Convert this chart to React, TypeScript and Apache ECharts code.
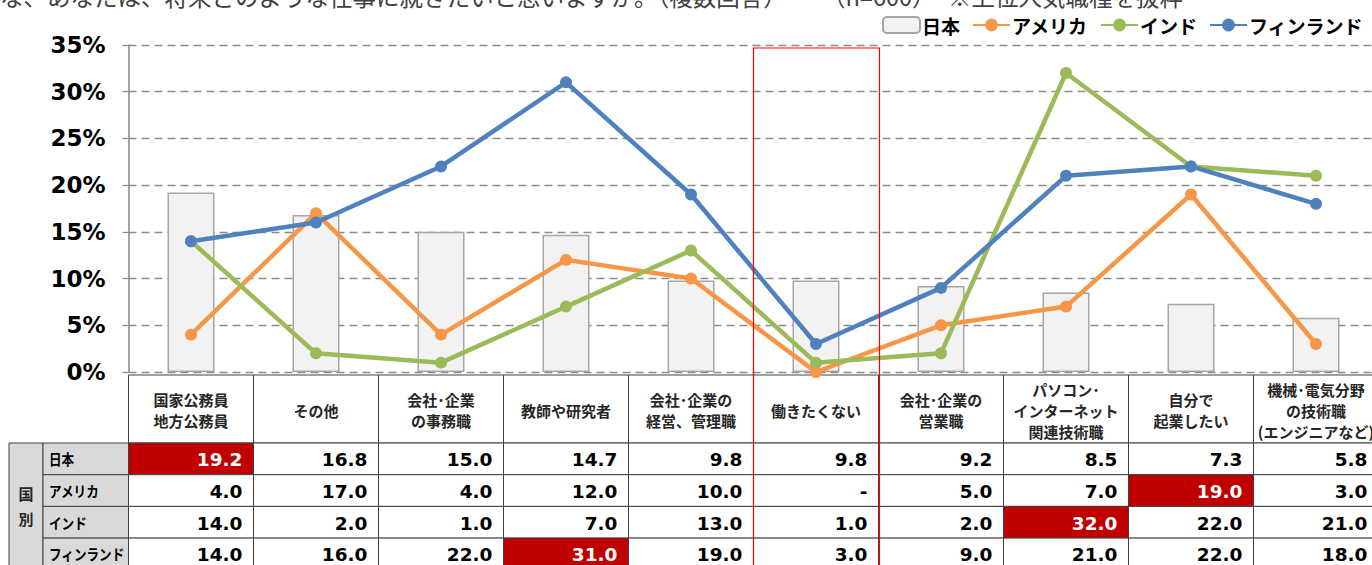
import React, { useEffect, useRef } from "react";
import * as echarts from "echarts";

const categories = [
  "国家公務員\n地方公務員",
  "その他",
  "会社･企業\nの事務職",
  "教師や研究者",
  "会社･企業の\n経営、管理職",
  "働きたくない",
  "会社･企業の\n営業職",
  "パソコン･\nインターネット\n関連技術職",
  "自分で\n起業したい",
  "機械･電気分野\nの技術職\n(エンジニアなど)",
];
const seriesNames = ["日本", "アメリカ", "インド", "フィンランド"];
const japan = [19.2, 16.8, 15.0, 14.7, 9.8, 9.8, 9.2, 8.5, 7.3, 5.8];
const america = [4.0, 17.0, 4.0, 12.0, 10.0, 0, 5.0, 7.0, 19.0, 3.0];
const india = [14.0, 2.0, 1.0, 7.0, 13.0, 1.0, 2.0, 32.0, 22.0, 21.0];
const finland = [14.0, 16.0, 22.0, 31.0, 19.0, 3.0, 9.0, 21.0, 22.0, 18.0];
const highlightedCategory = "働きたくない";
const groupLabel = "国\n別";
const titleMain = "な、あなたは、将来どのような仕事に就きたいと思いますか。（複数回答）";
const titleN = "（n=600）";
const titleNote = "※上位人気職種を抜粋";

const colors = ["#f2f2f2", "#f79646", "#9bbb59", "#4f81bd"];

export default function App() {
  const ref = useRef<HTMLDivElement>(null);
  useEffect(() => {
    document.body.style.margin = "0";
    const chart = echarts.init(ref.current!, null, { renderer: "svg" });
    const lineSeries = (name: string, data: number[], color: string) => ({
      name,
      type: "line",
      data,
      color,
      symbol: "circle",
      symbolSize: 12,
      lineStyle: { width: 4.5, color },
      itemStyle: { color },
      z: 3,
    });
    chart.setOption({
      animation: false,
      grid: {
        left: 128.5,
        top: 45,
        width: 1250,
        height: 327,
        containLabel: false,
        outerBoundsMode: "none",
      },
      legend: {
        right: 4,
        top: 13,
        padding: [2, 5, 2, 5],
        itemGap: 12,
        itemWidth: 37,
        itemHeight: 16,
        data: seriesNames,
        textStyle: {
          fontSize: 19,
          lineHeight: 20,
          fontWeight: "bold",
          color: "#000",
          fontFamily: '"Noto Sans CJK JP"',
          padding: [0, 0, 0, -3],
        },
      },
      xAxis: {
        type: "category",
        data: categories,
        axisLine: { show: false },
        axisTick: { show: false },
        axisLabel: { show: false },
      },
      yAxis: {
        type: "value",
        min: 0,
        max: 35,
        interval: 5,
        axisLine: { show: true, lineStyle: { color: "#868686", width: 1.5 } },
        axisTick: {
          show: true,
          length: 8,
          lineStyle: { color: "#8c8c8c", type: [6, 4], width: 1.3 },
        },
        splitLine: {
          lineStyle: { color: "#8c8c8c", type: [8, 5], width: 1.3 },
        },
        axisLabel: {
          formatter: "{value}%",
          margin: 23,
          fontSize: 23,
          fontWeight: "bold",
          color: "#000",
          fontFamily: '"DejaVu Sans"',
        },
      },
      series: [
        {
          name: seriesNames[0],
          type: "bar",
          data: japan,
          barWidth: 47,
          itemStyle: { color: colors[0], borderColor: "#a6a6a6", borderWidth: 1.5 },
          z: 2,
        },
        lineSeries(seriesNames[1], america, colors[1]),
        lineSeries(seriesNames[2], india, colors[2]),
        lineSeries(seriesNames[3], finland, colors[3]),
      ],
    });

    const rows = [japan, america, india, finland];
    const cx = categories.map(
      (_, i) => chart.convertToPixel({ xAxisIndex: 0 }, i) as number
    );
    const cw = cx[1] - cx[0];
    const top = 375;
    const headerH = 68;
    const rowH = 31.7;
    const bodyTop = top + headerH;
    const g: any[] = [];
    const cjk = '"Noto Sans CJK JP"';

    // title (partially cut at the top, as in the source image)
    const titleStyle = {
      fontSize: 23.5,
      lineHeight: 23.5,
      fontFamily: cjk,
      fill: "#404040",
      verticalAlign: "middle",
    };
    g.push({ type: "text", x: 0, y: -4.5, style: { ...titleStyle, text: titleMain } });
    g.push({ type: "text", x: 822, y: -4.5, style: { ...titleStyle, text: titleN } });
    g.push({ type: "text", x: 948, y: -4.5, style: { ...titleStyle, text: titleNote } });

    // left label block
    const leftX = cx[0] - cw / 2;
    g.push({
      type: "rect",
      shape: { x: 9, y: bodyTop, width: 34, height: rowH * 4 },
      style: { fill: "#d9d9d9", stroke: "#404040", lineWidth: 1 },
    });
    g.push({
      type: "text",
      x: 26,
      y: bodyTop + rowH * 2,
      style: {
        text: groupLabel,
        fontSize: 15,
        fontWeight: "bold",
        fontFamily: cjk,
        fill: "#262626",
        align: "center",
        verticalAlign: "middle",
        lineHeight: 25,
      },
    });
    seriesNames.forEach((n, r) => {
      g.push({
        type: "rect",
        shape: { x: 43, y: bodyTop + r * rowH, width: leftX - 43, height: rowH },
        style: { fill: "#d9d9d9", stroke: "#404040", lineWidth: 1 },
      });
      g.push({
        type: "text",
        x: 49,
        y: bodyTop + r * rowH + rowH / 2,
        scaleX: 0.84,
        style: {
          text: n,
          fontSize: 15,
          fontWeight: "bold",
          fontFamily: cjk,
          fill: "#000",
          verticalAlign: "middle",
        },
      });
    });

    const maxIdx = rows.map((row) => row.indexOf(Math.max(...row)));

    categories.forEach((c, i) => {
      const x0 = cx[i] - cw / 2;
      g.push({
        type: "rect",
        shape: { x: x0, y: top, width: cw, height: headerH },
        style: { fill: "#fff", stroke: "#404040", lineWidth: 1 },
      });
      g.push({
        type: "text",
        x: cx[i],
        y: top + headerH / 2 + 1,
        style: {
          text: c,
          fontSize: 15,
          fontWeight: "bold",
          fontFamily: cjk,
          lineHeight: 21,
          fill: "#262626",
          align: "center",
          verticalAlign: "middle",
        },
      });
      rows.forEach((row, r) => {
        const hl = maxIdx[r] === i;
        const y0 = bodyTop + r * rowH;
        g.push({
          type: "rect",
          shape: { x: x0, y: y0, width: cw, height: rowH },
          style: { fill: hl ? "#c00000" : "#fff", stroke: "#404040", lineWidth: 1 },
        });
        g.push({
          type: "text",
          x: x0 + cw - 11,
          y: y0 + rowH / 2 + 1,
          style: {
            text: row[i] === 0 ? "-" : row[i].toFixed(1),
            fontSize: 18.5,
            fontWeight: "bold",
            fontFamily: '"DejaVu Sans"',
            fill: hl ? "#fff" : "#000",
            align: "right",
            verticalAlign: "middle",
          },
        });
      });
    });

    const hi = categories.indexOf(highlightedCategory);
    g.push({
      type: "rect",
      z: 100,
      shape: { x: cx[hi] - cw / 2, y: 48, width: cw + 1, height: 600 },
      style: { fill: "none", stroke: "#ff0000", lineWidth: 1.2 },
    });

    chart.setOption({ graphic: g });
    return () => chart.dispose();
  }, []);
  return <div ref={ref} style={{ width: 1372, height: 565 }} />;
}
